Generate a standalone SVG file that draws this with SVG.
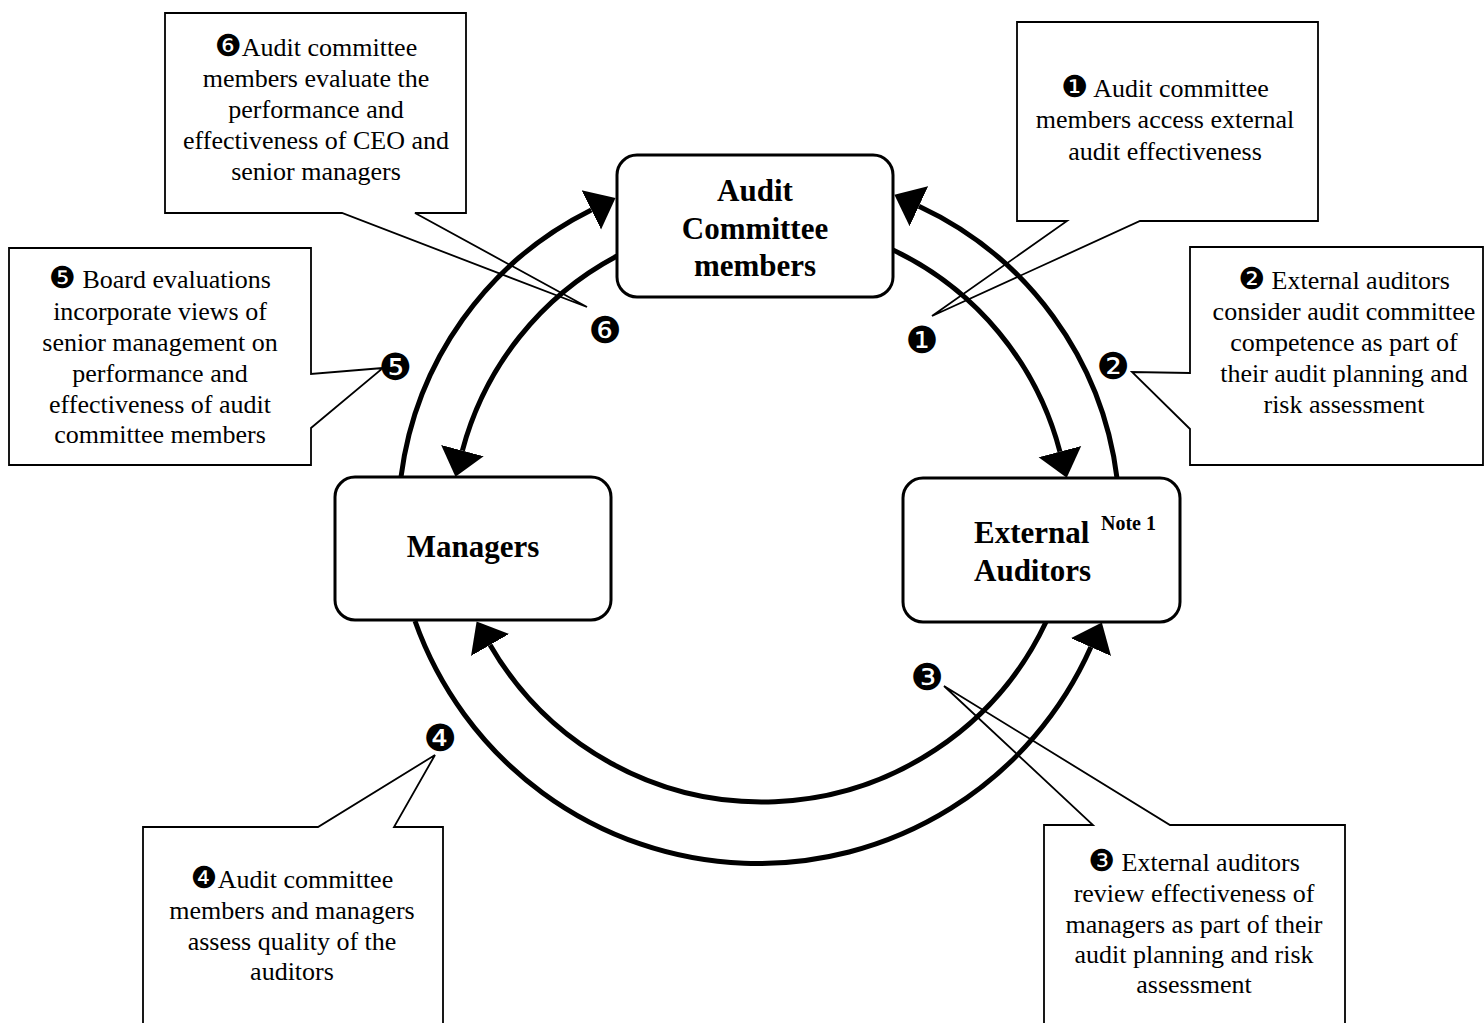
<svg xmlns="http://www.w3.org/2000/svg" width="1484" height="1023" viewBox="0 0 1484 1023">
<defs>
<style>
.cl{fill:#fff;stroke:#000;stroke-width:1.8;stroke-linejoin:miter}
.t{font-family:"Liberation Serif","DejaVu Sans",serif;font-size:26px;text-anchor:middle;fill:#000}
.d{font-family:"DejaVu Sans",sans-serif;font-size:30px}
.node{fill:#fff;stroke:#000;stroke-width:3}
.nt{font-family:"Liberation Serif",serif;font-weight:bold;font-size:31px;text-anchor:middle;fill:#000}
.arc{fill:none;stroke:#000;stroke-width:5;marker-end:url(#ah)}
.num{font-family:"DejaVu Sans",sans-serif;font-size:37px;text-anchor:middle;fill:#000}
</style>
<marker id="ah" markerUnits="userSpaceOnUse" viewBox="0 -23 28 46" markerWidth="28" markerHeight="46" refX="0" refY="0" orient="auto">
<path d="M0,-22 L27,0 L0,22 Z" fill="#000"/>
</marker>
</defs>
<rect width="1484" height="1023" fill="#fff"/>

<g id="callout6">
<path class="cl" d="M165,13 H466 V213 H415 L587,307 L342,213 H165 Z"/>
<text class="t" x="316" y="56"><tspan class="d">❻</tspan>Audit committee</text>
<text class="t" x="316" y="87">members evaluate the</text>
<text class="t" x="316" y="118">performance and</text>
<text class="t" x="316" y="149">effectiveness of CEO and</text>
<text class="t" x="316" y="180">senior managers</text>
</g>
<g id="callout1">
<path class="cl" d="M1017,22 H1318 V221 H1140 L932,316 L1067,221 H1017 Z"/>
<text class="t" x="1165" y="97"><tspan class="d">❶</tspan> Audit committee</text>
<text class="t" x="1165" y="128">members access external</text>
<text class="t" x="1165" y="160">audit effectiveness</text>
</g>
<g id="callout2">
<path class="cl" d="M1190,247 H1483 V465 H1190 V429 L1132,372 L1190,373 Z"/>
<text class="t" x="1344" y="289"><tspan class="d">❷</tspan> External auditors</text>
<text class="t" x="1344" y="320">consider audit committee</text>
<text class="t" x="1344" y="351">competence as part of</text>
<text class="t" x="1344" y="382">their audit planning and</text>
<text class="t" x="1344" y="413">risk assessment</text>
</g>
<g id="callout5">
<path class="cl" d="M9,248 H311 V374 L383,368 L311,428 V465 H9 Z"/>
<text class="t" x="160" y="288"><tspan class="d">❺</tspan> Board evaluations</text>
<text class="t" x="160" y="320">incorporate views of</text>
<text class="t" x="160" y="351">senior management on</text>
<text class="t" x="160" y="382">performance and</text>
<text class="t" x="160" y="413">effectiveness of audit</text>
<text class="t" x="160" y="443">committee members</text>
</g>
<g id="callout4">
<path class="cl" d="M143,1030 V827 H318 L435,755 L394,827 H443 V1030"/>
<text class="t" x="292" y="888"><tspan class="d">❹</tspan>Audit committee</text>
<text class="t" x="292" y="919">members and managers</text>
<text class="t" x="292" y="950">assess quality of the</text>
<text class="t" x="292" y="980">auditors</text>
</g>
<g id="callout3">
<path class="cl" d="M1044,1030 V825 H1093 L944,686 L1170,825 H1345 V1030"/>
<text class="t" x="1194" y="871"><tspan class="d">❸</tspan> External auditors</text>
<text class="t" x="1194" y="902">review effectiveness of</text>
<text class="t" x="1194" y="933">managers as part of their</text>
<text class="t" x="1194" y="963">audit planning and risk</text>
<text class="t" x="1194" y="993">assessment</text>
</g>

<g id="connectors">
<path class="arc" d="M401,477 A347,347 0 0 1 591.3,209.9"/>
<path class="arc" d="M1117,478 A347,347 0 0 0 918.9,206.2"/>
<path class="arc" d="M415,621 A364,364 0 0 0 1090.9,647.1"/>
<path class="arc" d="M617,256 A310,310 0 0 0 462.4,450.6"/>
<path class="arc" d="M893,250 A310,310 0 0 1 1059.9,451.6"/>
<path class="arc" d="M1046,622 A314,314 0 0 1 490.1,644.9"/>
</g>

<g id="node-audit-committee">
<rect class="node" x="617" y="155" width="276" height="142" rx="20"/>
<text class="nt" x="755" y="201">Audit</text>
<text class="nt" x="755" y="239">Committee</text>
<text class="nt" x="755" y="276">members</text>
</g>
<g id="node-managers">
<rect class="node" x="335" y="477" width="276" height="143" rx="20"/>
<text class="nt" x="473" y="557">Managers</text>
</g>
<g id="node-external-auditors">
<rect class="node" x="903" y="478" width="277" height="144" rx="20"/>
<text class="nt" x="974" y="543" style="text-anchor:start">External</text>
<text class="nt" x="1101" y="530" style="text-anchor:start;font-size:20px">Note 1</text>
<text class="nt" x="974" y="581" style="text-anchor:start">Auditors</text>
</g>

<g id="markers">
<text class="num" x="922" y="353">❶</text>
<text class="num" x="1113" y="379">❷</text>
<text class="num" x="927" y="690">❸</text>
<text class="num" x="440" y="751">❹</text>
<text class="num" x="395" y="380">❺</text>
<text class="num" x="605" y="343">❻</text>
</g>
</svg>
